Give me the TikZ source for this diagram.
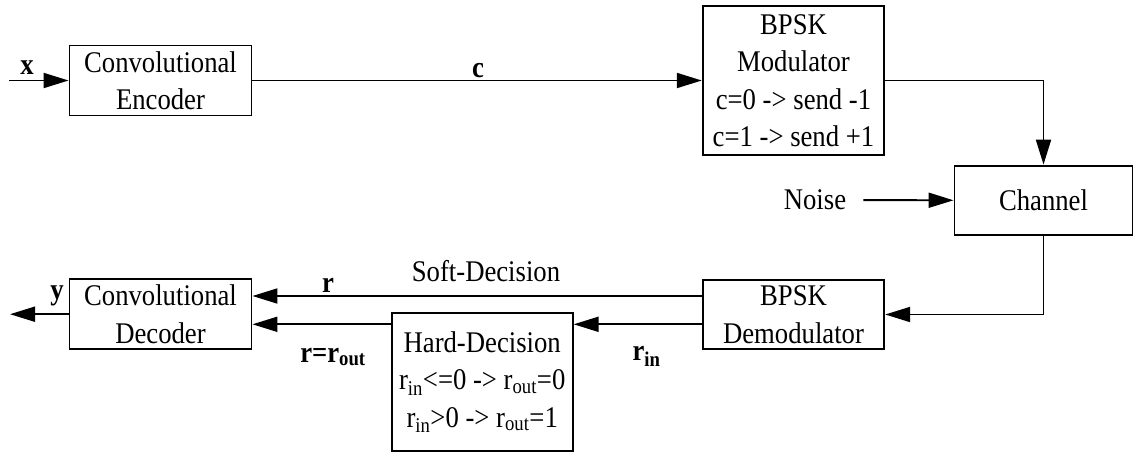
\documentclass[tikz,border=0pt]{standalone}
\usepackage{fontspec}
\setmainfont{Liberation Serif}[FakeStretch=0.89]
\usetikzlibrary{arrows.meta,calc}

\tikzset{
  blk/.style={draw, line width=1.9pt, inner sep=0pt, align=center,
    font=\fontsize{30}{37.5}\selectfont},
  txt/.style={inner sep=0pt, font=\fontsize{30}{34}\selectfont},
  lbl/.style={inner sep=0pt, font=\fontsize{30}{34}\selectfont\bfseries},
  arr/.style={line width=1.9pt, -{Triangle[length=25pt,width=15pt]}},
  wire/.style={line width=1.9pt}
}

\begin{document}
\begin{tikzpicture}[x=1pt,y=-1pt]
\useasboundingbox (0,0) rectangle (1134,452);

% blocks
\node[blk, minimum width=182pt, minimum height=70pt] (enc) at (160.5,80.5)
  {Convolutional\\Encoder};
\node[blk, minimum width=181.5pt, minimum height=149.5pt] (mod) at (793.5,80.5)
  {BPSK\\Modulator\\c=0 -> send -1\\c=1 -> send +1};
\node[blk, minimum width=178pt, minimum height=69.5pt] (chan) at (1043.5,200.3)
  {Channel};
\node[blk, minimum width=181.5pt, minimum height=69pt] (dem) at (793.5,314.5)
  {BPSK\\Demodulator};
\node[blk, minimum width=182pt, minimum height=70pt] (dec) at (160.5,314.2)
  {Convolutional\\Decoder};
\node[blk, minimum width=181pt, minimum height=137.5pt] (hard) at (482.2,382)
  {Hard-Decision\\
   r\textsubscript{in}<=0 -> r\textsubscript{out}=0\\
   r\textsubscript{in}>0 -> r\textsubscript{out}=1};

\node[txt] (noise) at (815,200) {Noise};

% free ends
\coordinate (xin) at (9,80.5);
\coordinate (yout) at (10,314.2);

% transmit chain
\draw[arr] (xin) -- (enc.west);
\draw[arr] (enc.east) -- (mod.west);
\draw[arr] (mod.east) -| (chan.north);
\draw[arr, shorten <=17pt] (noise.east) -- (chan.west);
\draw[arr] (chan.south) |- (dem.east);

% soft and hard decision paths
\coordinate (s1) at ([yshift=18.5pt]dem.west);
\coordinate (h1) at ([yshift=-9.8pt]dem.west);
\draw[arr] (s1) -- (s1 -| dec.east);
\draw[arr] (h1) -- (h1 -| hard.east);
\draw[arr] (h1 -| hard.west) -- (h1 -| dec.east);
\draw[arr] (dec.west) -- (yout);

% signal labels
\node[lbl] (lx) at (27,68) {x};
\node[lbl] (lc) at (478,71) {c};
\node[lbl] (ly) at (57,296) {y};
\node[lbl] (lr) at (328,285) {r};
\node[lbl] (lrout) at (333,357) {r=r\textsubscript{out}};
\node[lbl] (lrin) at (646.5,356) {r\textsubscript{in}};
\node[txt] (soft) at (486,271) {Soft-Decision};
\end{tikzpicture}
\end{document}
